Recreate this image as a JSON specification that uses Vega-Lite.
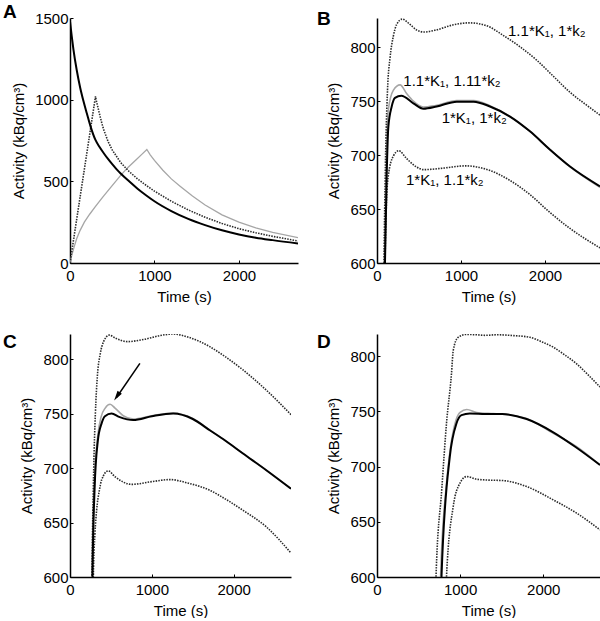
{
  "$schema": "https://vega.github.io/schema/vega-lite/v6.json",
  "background": "white",
  "padding": {"left": 3, "top": 3, "right": 0, "bottom": 0},
  "config": {
    "view": {"stroke": null},
    "font": "Liberation Sans",
    "axis": {"grid": false, "domainColor": "black", "domainWidth": 1.5, "tickColor": "black", "tickWidth": 1, "tickSize": -3, "labelFontSize": 15, "titleFontSize": 15, "titleFontWeight": "normal", "labelColor": "black", "titleColor": "black", "labelPadding": 5, "titlePadding": 8, "labelFlush": false, "labelOverlap": false, "labelFont": "Liberation Sans", "titleFont": "Liberation Sans"},
    "axisX": {"labelPadding": 8, "titlePadding": 6},
    "line": {"interpolate": "monotone"},
    "title": {"fontSize": 19, "fontWeight": "bold", "anchor": "start", "frame": "group", "offset": 0, "baseline": "alphabetic", "font": "Liberation Sans", "color": "black"}
  },
  "datasets": {
    "A": [
      {"s":"g","t":0,"v":0},{"s":"g","t":20,"v":45},{"s":"g","t":50,"v":100},{"s":"g","t":80,"v":150},{"s":"g","t":120,"v":200},{"s":"g","t":170,"v":250},{"s":"g","t":235,"v":300},{"s":"g","t":300,"v":345},{"s":"g","t":390,"v":405},{"s":"g","t":480,"v":462},{"s":"g","t":590,"v":530},{"s":"g","t":680,"v":582},{"s":"g","t":780,"v":630},{"s":"g","t":850,"v":665},{"s":"g","t":910,"v":695},{"s":"g","t":950,"v":662},{"s":"g","t":1000,"v":628},{"s":"g","t":1100,"v":568},{"s":"g","t":1200,"v":515},{"s":"g","t":1300,"v":472},{"s":"g","t":1450,"v":410},{"s":"g","t":1600,"v":355},{"s":"g","t":1800,"v":295},{"s":"g","t":2000,"v":250},{"s":"g","t":2200,"v":215},{"s":"g","t":2400,"v":188},{"s":"g","t":2700,"v":155},
      {"s":"d","t":0,"v":0},{"s":"d","t":100,"v":338},{"s":"d","t":200,"v":675},{"s":"d","t":302,"v":1020},{"s":"d","t":315,"v":985},{"s":"d","t":330,"v":955},{"s":"d","t":345,"v":922},{"s":"d","t":360,"v":890},{"s":"d","t":380,"v":850},{"s":"d","t":400,"v":815},{"s":"d","t":450,"v":745},{"s":"d","t":500,"v":692},{"s":"d","t":600,"v":615},{"s":"d","t":700,"v":560},{"s":"d","t":800,"v":515},{"s":"d","t":900,"v":476},{"s":"d","t":1000,"v":440},{"s":"d","t":1200,"v":378},{"s":"d","t":1400,"v":325},{"s":"d","t":1600,"v":280},{"s":"d","t":1800,"v":242},{"s":"d","t":2000,"v":210},{"s":"d","t":2200,"v":185},{"s":"d","t":2400,"v":163},{"s":"d","t":2700,"v":135},
      {"s":"k","t":0,"v":1480},{"s":"k","t":20,"v":1390},{"s":"k","t":40,"v":1310},{"s":"k","t":80,"v":1180},{"s":"k","t":120,"v":1075},{"s":"k","t":160,"v":990},{"s":"k","t":200,"v":915},{"s":"k","t":244,"v":835},{"s":"k","t":300,"v":755},{"s":"k","t":350,"v":710},{"s":"k","t":400,"v":672},{"s":"k","t":450,"v":637},{"s":"k","t":500,"v":605},{"s":"k","t":550,"v":575},{"s":"k","t":600,"v":548},{"s":"k","t":700,"v":500},{"s":"k","t":800,"v":455},{"s":"k","t":900,"v":415},{"s":"k","t":1000,"v":378},{"s":"k","t":1200,"v":318},{"s":"k","t":1400,"v":270},{"s":"k","t":1600,"v":232},{"s":"k","t":1800,"v":200},{"s":"k","t":2000,"v":175},{"s":"k","t":2200,"v":155},{"s":"k","t":2400,"v":140},{"s":"k","t":2700,"v":120}
    ],
    "B": [
      {"s":"g","t":75,"v":540},{"s":"g","t":88,"v":600},{"s":"g","t":110,"v":690},{"s":"g","t":135,"v":742},{"s":"g","t":194,"v":760},{"s":"g","t":275,"v":765},{"s":"g","t":353,"v":757},{"s":"g","t":433,"v":750},{"s":"g","t":552,"v":744.5},{"s":"g","t":700,"v":746},{"s":"g","t":950,"v":750.5},{"s":"g","t":1150,"v":750.5},{"s":"g","t":1350,"v":745.5},{"s":"g","t":1580,"v":736},{"s":"g","t":1820,"v":722},{"s":"g","t":2060,"v":705},{"s":"g","t":2300,"v":689},{"s":"g","t":2655,"v":670},
      {"s":"h","t":70,"v":500},{"s":"h","t":83,"v":600},{"s":"h","t":100,"v":690},{"s":"h","t":125,"v":760},{"s":"h","t":155,"v":790},{"s":"h","t":194,"v":810},{"s":"h","t":234,"v":821},{"s":"h","t":300,"v":826},{"s":"h","t":393,"v":821},{"s":"h","t":470,"v":816},{"s":"h","t":560,"v":814},{"s":"h","t":710,"v":816},{"s":"h","t":900,"v":820.5},{"s":"h","t":1100,"v":822.5},{"s":"h","t":1300,"v":820},{"s":"h","t":1500,"v":811},{"s":"h","t":1700,"v":800.5},{"s":"h","t":1900,"v":788},{"s":"h","t":2100,"v":773},{"s":"h","t":2300,"v":758},{"s":"h","t":2500,"v":746},{"s":"h","t":2655,"v":737},
      {"s":"l","t":80,"v":530},{"s":"l","t":95,"v":600},{"s":"l","t":115,"v":660},{"s":"l","t":135,"v":681},{"s":"l","t":194,"v":699},{"s":"l","t":260,"v":704},{"s":"l","t":350,"v":697},{"s":"l","t":450,"v":690},{"s":"l","t":560,"v":686.5},{"s":"l","t":800,"v":688},{"s":"l","t":1050,"v":690},{"s":"l","t":1345,"v":685.7},{"s":"l","t":1583,"v":676.5},{"s":"l","t":1821,"v":663.4},{"s":"l","t":2060,"v":646.7},{"s":"l","t":2298,"v":632},{"s":"l","t":2655,"v":614},
      {"s":"k","t":80,"v":520},{"s":"k","t":95,"v":600},{"s":"k","t":115,"v":680},{"s":"k","t":135,"v":726},{"s":"k","t":175,"v":745},{"s":"k","t":214,"v":753},{"s":"k","t":290,"v":755},{"s":"k","t":433,"v":748},{"s":"k","t":552,"v":743},{"s":"k","t":710,"v":745},{"s":"k","t":950,"v":749.5},{"s":"k","t":1150,"v":749.5},{"s":"k","t":1345,"v":745},{"s":"k","t":1583,"v":735.7},{"s":"k","t":1821,"v":722},{"s":"k","t":2060,"v":705},{"s":"k","t":2298,"v":689.4},{"s":"k","t":2655,"v":671}
    ],
    "Blab": [
      {"t":1560,"v":810.5,"label":"1.1*K₁, 1*k₂"},
      {"t":313,"v":764,"label":"1.1*K₁, 1.11*k₂"},
      {"t":770,"v":730,"label":"1*K₁, 1*k₂"},
      {"t":345,"v":672.5,"label":"1*K₁, 1.1*k₂"}
    ],
    "C": [
      {"s":"g","t":258,"v":520},{"s":"g","t":268,"v":600},{"s":"g","t":300,"v":690},{"s":"g","t":340,"v":730},{"s":"g","t":380,"v":747},{"s":"g","t":430,"v":755},{"s":"g","t":490,"v":758.5},{"s":"g","t":550,"v":755},{"s":"g","t":650,"v":748},{"s":"g","t":772,"v":745},{"s":"g","t":1000,"v":748},{"s":"g","t":1260,"v":750.5},{"s":"g","t":1500,"v":745.5},{"s":"g","t":1707,"v":735},{"s":"g","t":2114,"v":713.3},{"s":"g","t":2398,"v":698},{"s":"g","t":2700,"v":681},
      {"s":"h","t":250,"v":450},{"s":"h","t":268,"v":600},{"s":"h","t":290,"v":700},{"s":"h","t":310,"v":750},{"s":"h","t":335,"v":785},{"s":"h","t":370,"v":805},{"s":"h","t":410,"v":816},{"s":"h","t":480,"v":822},{"s":"h","t":560,"v":819},{"s":"h","t":700,"v":816},{"s":"h","t":900,"v":818},{"s":"h","t":1100,"v":821.5},{"s":"h","t":1250,"v":823},{"s":"h","t":1450,"v":820},{"s":"h","t":1707,"v":811.4},{"s":"h","t":1900,"v":802},{"s":"h","t":2114,"v":790},{"s":"h","t":2398,"v":771.5},{"s":"h","t":2700,"v":749},
      {"s":"l","t":270,"v":520},{"s":"l","t":285,"v":600},{"s":"l","t":305,"v":640},{"s":"l","t":325,"v":661},{"s":"l","t":360,"v":680},{"s":"l","t":386,"v":689},{"s":"l","t":467,"v":697.4},{"s":"l","t":550,"v":692},{"s":"l","t":752,"v":685},{"s":"l","t":1000,"v":687.5},{"s":"l","t":1220,"v":689.4},{"s":"l","t":1450,"v":686},{"s":"l","t":1707,"v":679.6},{"s":"l","t":1900,"v":671.5},{"s":"l","t":2114,"v":661.2},{"s":"l","t":2398,"v":646},{"s":"l","t":2700,"v":622},
      {"s":"k","t":265,"v":500},{"s":"k","t":275,"v":600},{"s":"k","t":300,"v":680},{"s":"k","t":340,"v":725},{"s":"k","t":386,"v":741},{"s":"k","t":427,"v":747.5},{"s":"k","t":508,"v":750},{"s":"k","t":600,"v":747},{"s":"k","t":772,"v":744},{"s":"k","t":1000,"v":747.5},{"s":"k","t":1260,"v":750},{"s":"k","t":1500,"v":745},{"s":"k","t":1707,"v":734.7},{"s":"k","t":1900,"v":725},{"s":"k","t":2114,"v":713.3},{"s":"k","t":2398,"v":698},{"s":"k","t":2700,"v":681}
    ],
    "Carrow": [
      {"t":854,"v":796,"t2":570,"v2":765}
    ],
    "Chead": [
      {"t":575,"v":766}
    ],
    "D": [
      {"s":"g","t":750,"v":500},{"s":"g","t":765,"v":600},{"s":"g","t":830,"v":680},{"s":"g","t":880,"v":715},{"s":"g","t":950,"v":742},{"s":"g","t":1000,"v":749},{"s":"g","t":1080,"v":751.6},{"s":"g","t":1200,"v":749},{"s":"g","t":1400,"v":748},{"s":"g","t":1506,"v":747.5},{"s":"g","t":1800,"v":743.5},{"s":"g","t":2121,"v":730},{"s":"g","t":2402,"v":718},{"s":"g","t":2683,"v":701.4},
      {"s":"h","t":690,"v":500},{"s":"h","t":710,"v":600},{"s":"h","t":780,"v":680},{"s":"h","t":836,"v":739},{"s":"h","t":896,"v":784},{"s":"h","t":917,"v":805},{"s":"h","t":976,"v":817},{"s":"h","t":1077,"v":819.6},{"s":"h","t":1200,"v":819.3},{"s":"h","t":1300,"v":818.8},{"s":"h","t":1440,"v":819.3},{"s":"h","t":1650,"v":818.5},{"s":"h","t":1840,"v":817},{"s":"h","t":1980,"v":813},{"s":"h","t":2121,"v":808},{"s":"h","t":2260,"v":801},{"s":"h","t":2402,"v":793},{"s":"h","t":2540,"v":783},{"s":"h","t":2683,"v":772},
      {"s":"l","t":820,"v":500},{"s":"l","t":836,"v":600},{"s":"l","t":917,"v":663.8},{"s":"l","t":997,"v":684.8},{"s":"l","t":1077,"v":690.9},{"s":"l","t":1200,"v":688.5},{"s":"l","t":1318,"v":687.8},{"s":"l","t":1518,"v":687.3},{"s":"l","t":1800,"v":681.9},{"s":"l","t":2121,"v":669.8},{"s":"l","t":2402,"v":657.8},{"s":"l","t":2683,"v":642.7},
      {"s":"k","t":760,"v":500},{"s":"k","t":776,"v":600},{"s":"k","t":876,"v":709},{"s":"k","t":956,"v":739},{"s":"k","t":1017,"v":746.5},{"s":"k","t":1117,"v":748},{"s":"k","t":1300,"v":747.6},{"s":"k","t":1506,"v":747.5},{"s":"k","t":1800,"v":743},{"s":"k","t":2121,"v":731},{"s":"k","t":2402,"v":717},{"s":"k","t":2683,"v":701.4}
    ]
  },
  "spacing": 29,
  "vconcat": [
    {
      "spacing": 19,
      "hconcat": [
        {
          "width": 228, "height": 245,
          "title": {"text": "A", "dx": -67, "dy": 15},
          "data": {"name": "A"},
          "encoding": {
            "x": {"field": "t", "type": "quantitative", "scale": {"domain": [0, 2700], "nice": false, "zero": false}, "axis": {"values": [0, 1000, 2000], "format": "d", "title": "Time (s)"}},
            "y": {"field": "v", "type": "quantitative", "scale": {"domain": [0, 1500], "nice": false, "zero": false}, "axis": {"values": [0, 500, 1000, 1500], "format": "d", "title": "Activity (kBq/cm³)"}}
          },
          "layer": [
            {"transform": [{"filter": "datum.s == 'g'"}], "mark": {"type": "line", "color": "#a6a6a6", "strokeWidth": 1.3, "clip": true, "interpolate": "linear"}},
            {"transform": [{"filter": "datum.s == 'd'"}], "mark": {"type": "line", "color": "#2b2b2b", "strokeWidth": 1.6, "strokeDash": [1.5, 1.2], "clip": true, "interpolate": "linear"}, "encoding": {"detail": {"field": "s"}}},
            {"transform": [{"filter": "datum.s == 'k'"}], "mark": {"type": "line", "color": "black", "strokeWidth": 2, "clip": true}}
          ]
        },
        {
          "width": 223, "height": 245,
          "title": {"text": "B", "dx": -60, "dy": 15},
          "encoding": {
            "x": {"field": "t", "type": "quantitative", "scale": {"domain": [0, 2655], "nice": false, "zero": false}, "axis": {"values": [0, 1000, 2000], "format": "d", "title": "Time (s)"}},
            "y": {"field": "v", "type": "quantitative", "scale": {"domain": [600, 827], "nice": false, "zero": false}, "axis": {"values": [600, 650, 700, 750, 800], "format": "d", "title": "Activity (kBq/cm³)"}}
          },
          "layer": [
            {"data": {"name": "B"}, "transform": [{"filter": "datum.s == 'g'"}], "mark": {"type": "line", "color": "#a6a6a6", "strokeWidth": 1.6, "clip": true}},
            {"data": {"name": "B"}, "transform": [{"filter": "datum.s == 'h' || datum.s == 'l'"}], "mark": {"type": "line", "color": "#2b2b2b", "strokeWidth": 1.6, "strokeDash": [1.5, 1.2], "clip": true}, "encoding": {"detail": {"field": "s"}}},
            {"data": {"name": "B"}, "transform": [{"filter": "datum.s == 'k'"}], "mark": {"type": "line", "color": "black", "strokeWidth": 2, "clip": true}},
            {"data": {"name": "Blab"}, "mark": {"type": "text", "align": "left", "baseline": "alphabetic", "fontSize": 15, "font": "Liberation Sans", "color": "black"}, "encoding": {"text": {"field": "label"}}}
          ]
        }
      ]
    },
    {
      "spacing": 26,
      "hconcat": [
        {
          "width": 221, "height": 243,
          "title": {"text": "C", "dx": -67, "dy": 22},
          "encoding": {
            "x": {"field": "t", "type": "quantitative", "scale": {"domain": [0, 2700], "nice": false, "zero": false}, "axis": {"values": [0, 1000, 2000], "format": "d", "title": "Time (s)"}},
            "y": {"field": "v", "type": "quantitative", "scale": {"domain": [600, 823], "nice": false, "zero": false}, "axis": {"values": [600, 650, 700, 750, 800], "format": "d", "title": "Activity (kBq/cm³)"}}
          },
          "layer": [
            {"data": {"name": "C"}, "transform": [{"filter": "datum.s == 'g'"}], "mark": {"type": "line", "color": "#a6a6a6", "strokeWidth": 1.6, "clip": true}},
            {"data": {"name": "C"}, "transform": [{"filter": "datum.s == 'h' || datum.s == 'l'"}], "mark": {"type": "line", "color": "#2b2b2b", "strokeWidth": 1.6, "strokeDash": [1.5, 1.2], "clip": true}, "encoding": {"detail": {"field": "s"}}},
            {"data": {"name": "C"}, "transform": [{"filter": "datum.s == 'k'"}], "mark": {"type": "line", "color": "black", "strokeWidth": 2, "clip": true}},
            {"data": {"name": "Carrow"}, "mark": {"type": "rule", "color": "black", "strokeWidth": 1.5}, "encoding": {"x2": {"field": "t2"}, "y2": {"field": "v2"}}},
            {"data": {"name": "Chead"}, "mark": {"type": "point", "shape": "M0,-1L0.5,0.9L-0.5,0.9Z", "filled": true, "color": "black", "opacity": 1, "size": 110, "angle": 214}}
          ]
        },
        {
          "width": 223, "height": 243,
          "title": {"text": "D", "dx": -60, "dy": 22},
          "data": {"name": "D"},
          "encoding": {
            "x": {"field": "t", "type": "quantitative", "scale": {"domain": [0, 2683], "nice": false, "zero": false}, "axis": {"values": [0, 1000, 2000], "format": "d", "title": "Time (s)"}},
            "y": {"field": "v", "type": "quantitative", "scale": {"domain": [600, 820], "nice": false, "zero": false}, "axis": {"values": [600, 650, 700, 750, 800], "format": "d", "title": "Activity (kBq/cm³)"}}
          },
          "layer": [
            {"transform": [{"filter": "datum.s == 'g'"}], "mark": {"type": "line", "color": "#a6a6a6", "strokeWidth": 1.6, "clip": true}},
            {"transform": [{"filter": "datum.s == 'h' || datum.s == 'l'"}], "mark": {"type": "line", "color": "#2b2b2b", "strokeWidth": 1.6, "strokeDash": [1.5, 1.2], "clip": true}, "encoding": {"detail": {"field": "s"}}},
            {"transform": [{"filter": "datum.s == 'k'"}], "mark": {"type": "line", "color": "black", "strokeWidth": 2, "clip": true}}
          ]
        }
      ]
    }
  ]
}
